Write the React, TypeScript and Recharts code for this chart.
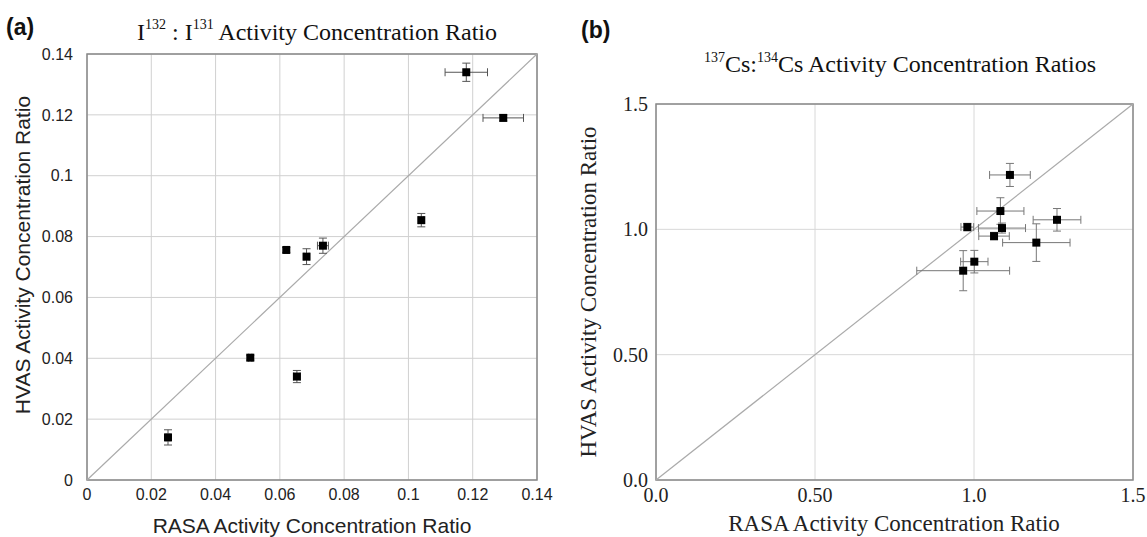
import React from 'react';
import {
  ScatterChart,
  Scatter,
  XAxis,
  YAxis,
  ZAxis,
  CartesianGrid,
  ErrorBar,
  ReferenceLine,
  ReferenceArea,
} from 'recharts';

// panel (a): I-132 : I-131
const aRasa = [0.118, 0.1295, 0.104, 0.062, 0.0683, 0.0734, 0.0508, 0.0653, 0.0252];
const aHvas = [0.134, 0.119, 0.0854, 0.0756, 0.0734, 0.077, 0.0402, 0.034, 0.014];
const aRasaErr = [0.0066, 0.0063, 0.0008, 0.0005, 0.0008, 0.0017, 0.0005, 0.001, 0.0006];
const aHvasErr = [0.003, 0.001, 0.0022, 0.0008, 0.0026, 0.0025, 0.0008, 0.002, 0.0025];
const aTicks = [0, 0.02, 0.04, 0.06, 0.08, 0.1, 0.12, 0.14];
const aTickLabels = ['0', '0.02', '0.04', '0.06', '0.08', '0.1', '0.12', '0.14'];

// panel (b): Cs-137 : Cs-134
const bRasa = [1.113, 1.083, 1.261, 0.979, 1.088, 1.063, 1.196, 1.001, 0.966];
const bHvas = [1.217, 1.073, 1.038, 1.009, 1.005, 0.973, 0.947, 0.871, 0.835];
const bRasaErr = [0.064, 0.074, 0.075, 0.02, 0.074, 0.048, 0.106, 0.043, 0.146];
const bHvasErr = [0.046, 0.053, 0.045, 0.015, 0.02, 0.015, 0.075, 0.045, 0.08];
const bTicks = [0, 0.5, 1, 1.5];
const bTickLabels = ['0.0', '0.50', '1.0', '1.5'];

const aData = aRasa.map((x, i) => ({ x, y: aHvas[i], ex: aRasaErr[i], ey: aHvasErr[i] }));
const bData = bRasa.map((x, i) => ({ x, y: bHvas[i], ex: bRasaErr[i], ey: bHvasErr[i] }));

const sans = '"Liberation Sans", Arial, sans-serif';
const serif = '"Liberation Serif", "Times New Roman", serif';

const aTick = { fontFamily: sans, fontSize: 16, fill: '#222' };
const bTick = { fontFamily: serif, fontSize: 20, fill: '#222' };

const fmt = (ticks: number[], labels: string[]) => (v: number) => {
  const i = ticks.findIndex((t) => Math.abs(t - v) < 1e-9);
  return i >= 0 ? labels[i] : String(v);
};

const PanelA = () => (
  <ScatterChart width={580} height={537} margin={{ top: 54, right: 43, bottom: 0, left: 0 }}>
    <CartesianGrid stroke="#d0d0d0" />
    <XAxis
      type="number"
      dataKey="x"
      domain={[0, 0.14]}
      ticks={aTicks}
      tickFormatter={fmt(aTicks, aTickLabels)}
      height={57}
      tickLine={false}
      tickSize={0}
      tickMargin={9}
      axisLine={false}
      tick={aTick}
      interval={0}
    />
    <YAxis
      type="number"
      dataKey="y"
      domain={[0, 0.14]}
      ticks={aTicks}
      tickFormatter={fmt(aTicks, aTickLabels)}
      width={87}
      tickLine={false}
      tickSize={0}
      tickMargin={14}
      axisLine={false}
      tick={aTick}
      interval={0}
    />
    <ZAxis range={[90, 90]} />
    <ReferenceArea x1={0} x2={0.14} y1={0} y2={0.14} fill="none" stroke="#888" strokeWidth={1.5} />
    <ReferenceLine segment={[{ x: 0, y: 0 }, { x: 0.14, y: 0.14 }]} stroke="#aaa" strokeWidth={1.2} />
    <Scatter data={aData} fill="#000" shape="square" isAnimationActive={false}>
      <ErrorBar dataKey="ex" direction="x" width={4} stroke="#555" strokeWidth={1} />
      <ErrorBar dataKey="ey" direction="y" width={4} stroke="#555" strokeWidth={1} />
    </Scatter>
  </ScatterChart>
);

const PanelB = () => (
  <ScatterChart width={577} height={537} margin={{ top: 104, right: 14, bottom: 0, left: 0 }}>
    <CartesianGrid stroke="#d8d8d8" />
    <XAxis
      type="number"
      dataKey="x"
      domain={[0, 1.5]}
      ticks={bTicks}
      tickFormatter={fmt(bTicks, bTickLabels)}
      height={57}
      tickLine={false}
      tickSize={0}
      tickMargin={8}
      axisLine={false}
      tick={bTick}
      interval={0}
    />
    <YAxis
      type="number"
      dataKey="y"
      domain={[0, 1.5]}
      ticks={bTicks}
      tickFormatter={fmt(bTicks, bTickLabels)}
      width={86}
      tickLine={false}
      tickSize={0}
      tickMargin={8}
      axisLine={false}
      tick={bTick}
      interval={0}
    />
    <ZAxis range={[64, 64]} />
    <ReferenceArea x1={0} x2={1.5} y1={0} y2={1.5} fill="none" stroke="#888" strokeWidth={1.5} />
    <ReferenceLine segment={[{ x: 0, y: 0 }, { x: 1.5, y: 1.5 }]} stroke="#aaa" strokeWidth={1.2} />
    <Scatter data={bData} fill="#000" shape="square" isAnimationActive={false}>
      <ErrorBar dataKey="ex" direction="x" width={4} stroke="#777" strokeWidth={1} />
      <ErrorBar dataKey="ey" direction="y" width={4} stroke="#777" strokeWidth={1} />
    </Scatter>
  </ScatterChart>
);

const Labels = () => (
  <svg
    width={1147}
    height={537}
    style={{ position: 'absolute', left: 0, top: 0, pointerEvents: 'none' }}
  >
    <text x={6} y={35} fontFamily={sans} fontWeight="bold" fontSize={23} fill="#111">(a)</text>
    <text x={317} y={40} textAnchor="middle" fontFamily={serif} fontSize={24} fill="#111">
      <tspan>I</tspan>
      <tspan fontSize={14} dy={-11}>132</tspan>
      <tspan dy={11}> : I</tspan>
      <tspan fontSize={14} dy={-11}>131</tspan>
      <tspan dy={11}> Activity Concentration Ratio</tspan>
    </text>
    <text x={312} y={533} textAnchor="middle" fontFamily={sans} fontSize={21} fill="#222">
      RASA Activity Concentration Ratio
    </text>
    <text
      transform="translate(22,255) rotate(-90)"
      textAnchor="middle"
      dominantBaseline="central"
      fontFamily={sans}
      fontSize={21}
      fill="#222"
    >
      HVAS Activity Concentration Ratio
    </text>

    <text x={581} y={38} fontFamily={sans} fontWeight="bold" fontSize={23} fill="#111">(b)</text>
    <text x={900} y={72} textAnchor="middle" fontFamily={serif} fontSize={24} fill="#111">
      <tspan fontSize={14} dy={-10}>137</tspan>
      <tspan dy={10}>Cs:</tspan>
      <tspan fontSize={14} dy={-10}>134</tspan>
      <tspan dy={10}>Cs Activity Concentration Ratios</tspan>
    </text>
    <text x={894} y={531} textAnchor="middle" fontFamily={serif} fontSize={23} fill="#222">
      RASA Activity Concentration Ratio
    </text>
    <text
      transform="translate(588,292) rotate(-90)"
      textAnchor="middle"
      dominantBaseline="central"
      fontFamily={serif}
      fontSize={23}
      fill="#222"
    >
      HVAS Activity Concentration Ratio
    </text>
  </svg>
);

export default function App() {
  return (
    <div style={{ position: 'absolute', left: 0, top: 0, width: 1147, height: 537, background: '#fff' }}>
      <div style={{ position: 'absolute', left: 0, top: 0 }}>
        <PanelA />
      </div>
      <div style={{ position: 'absolute', left: 570, top: 0 }}>
        <PanelB />
      </div>
      <Labels />
    </div>
  );
}
